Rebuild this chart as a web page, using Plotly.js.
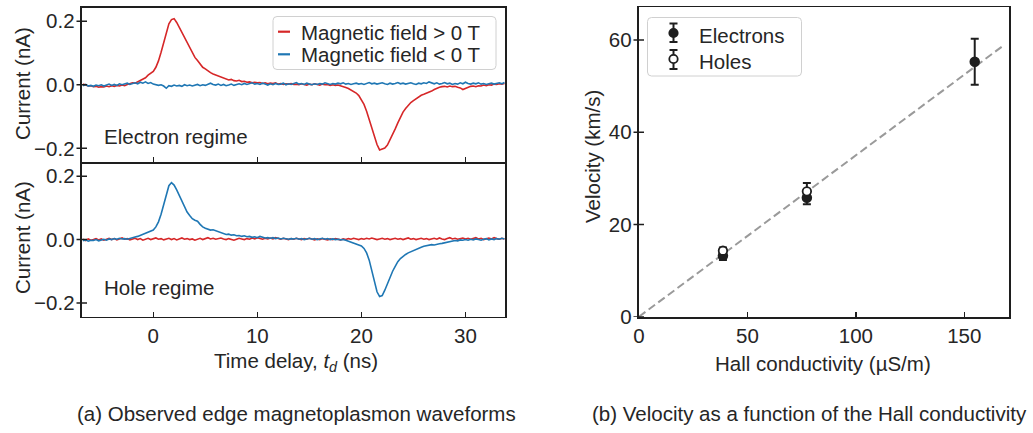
<!DOCTYPE html>
<html>
<head>
<meta charset="utf-8">
<script src="https://cdn.plot.ly/plotly-3.0.1.min.js"></script>
<style>html,body{margin:0;padding:0;background:#fff;}#plot{width:1033px;height:433px;}</style>
</head>
<body>
<div id="plot"></div>
<script>
// ---------------- DATA ----------------
// Time grid of the waveforms (ns): start and sampling step
const timeStart = -6.75;
const timeStep = 0.25;

// (a) Electron regime, current in nA
const electronPosB = [
 0.002,-0.002,-0.004,-0.003, -0.006,-0.005,-0.008,-0.006, -0.007,-0.004,-0.006,-0.003, -0.005,-0.002,-0.004,-0.001,
 -0.003,0.001,0.003,0.006, 0.005,0.009,0.012,0.016, 0.022,0.030,0.036,0.042, 0.055,0.075,0.102,0.135,
 0.168,0.192,0.205,0.208, 0.196,0.180,0.162,0.147, 0.133,0.118,0.101,0.086, 0.076,0.064,0.055,0.050,
 0.043,0.038,0.034,0.031, 0.028,0.024,0.020,0.018, 0.015,0.017,0.013,0.012, 0.014,0.010,0.011,0.008,
 0.009,0.006,0.008,0.006, 0.007,0.004,0.006,0.003, 0.005,0.004,0.006,0.002, 0.004,0.001,0.003,0.002,
 0.004,0.001,0.002,0.000, 0.003,0.001,-0.001,0.002, 0.000,0.003,0.001,-0.001, 0.002,0.000,0.001,-0.002,
 0.000,-0.002,-0.001,-0.003, -0.006,-0.009,-0.012,-0.016, -0.020,-0.026,-0.034,-0.046, -0.062,-0.083,-0.110,-0.138,
 -0.165,-0.188,-0.205,-0.203, -0.199,-0.190,-0.174,-0.157, -0.139,-0.120,-0.102,-0.086, -0.075,-0.064,-0.056,-0.050,
 -0.044,-0.038,-0.033,-0.030, -0.027,-0.024,-0.020,-0.015, -0.011,-0.008,-0.006,-0.005, -0.007,-0.004,-0.006,-0.005,
 -0.008,-0.010,-0.015,-0.011, -0.007,-0.005,-0.004,-0.006, -0.003,-0.004,-0.001,-0.003, 0.000,-0.001,0.002,0.001,
 0.003,0.002,0.004
];
const electronNegB = [
 -0.003,0.001,-0.004,-0.002, -0.005,-0.001,-0.003,0.000, -0.004,-0.001,0.002,-0.002, 0.001,-0.002,0.003,0.000,
 0.002,0.005,0.001,0.004, 0.006,0.003,0.008,0.005, 0.009,0.004,0.007,0.002, 0.001,-0.002,0.000,-0.004,
 -0.011,-0.003,-0.005,-0.001, -0.004,-0.002,-0.005,0.000, -0.003,-0.001,-0.004,-0.002, 0.001,-0.003,0.000,-0.002,
 0.002,0.005,0.001,-0.001, 0.002,-0.002,0.001,-0.003, -0.001,0.002,-0.002,0.000, 0.003,0.000,0.004,0.001,
 0.003,0.006,0.002,0.004, 0.001,0.005,0.002,-0.001, 0.003,0.000,0.004,0.001, 0.002,0.005,0.000,0.003,
 0.001,0.004,0.007,0.002, 0.004,0.001,0.005,0.002, 0.000,0.003,0.001,0.004, 0.002,0.006,0.003,0.001,
 0.004,0.002,0.005,0.003, 0.006,0.002,0.004,0.001, 0.003,0.005,0.002,0.004, 0.001,0.004,0.007,0.003,
 0.005,0.002,0.004,0.006, 0.003,0.001,0.005,0.002, 0.004,0.007,0.003,0.005, 0.002,0.004,0.006,0.003,
 0.001,0.005,0.003,0.006, 0.004,0.009,0.005,0.003, 0.006,0.002,0.004,0.007, 0.003,0.005,0.001,0.004,
 0.002,0.006,0.003,0.008, 0.004,0.002,0.005,0.003, 0.006,0.002,0.004,0.001, 0.003,0.005,0.002,0.004,
 0.006,0.003,0.007
];
// (a) Hole regime, current in nA
const holePosB = [
 0.001,-0.003,0.002,-0.002, 0.000,0.003,-0.001,0.002, -0.002,0.001,0.004,0.000, 0.003,-0.001,0.002,0.005,
 0.001,0.003,-0.001,0.002, 0.004,0.000,0.003,-0.002, 0.001,0.004,0.000,0.002, 0.005,0.001,0.003,-0.001,
 0.002,0.004,0.000,0.003, -0.001,0.002,0.005,0.001, 0.003,0.000,0.002,-0.002, 0.001,0.004,0.000,0.002,
 0.006,0.002,0.004,0.001, 0.003,0.005,0.002,0.000, 0.003,0.001,-0.002,0.001, 0.004,0.002,0.000,0.003,
 0.001,0.005,0.002,0.006, 0.003,0.001,0.004,0.002, 0.005,0.002,0.006,0.003, 0.001,0.004,0.002,0.000,
 0.003,0.001,0.004,0.002, 0.000,0.003,0.001,0.004, 0.002,-0.001,0.002,0.000, 0.003,0.001,-0.001,0.002,
 0.000,0.003,0.001,-0.001, 0.002,0.000,0.003,0.001, 0.004,0.002,0.000,0.003, 0.001,0.004,0.002,0.005,
 0.003,0.000,0.002,0.004, 0.001,0.003,0.000,0.002, 0.004,0.001,0.003,0.000, 0.002,0.005,0.001,0.003,
 0.000,0.002,0.004,0.001, 0.003,0.000,0.002,0.004, 0.001,0.005,0.002,0.000, 0.003,0.006,0.002,0.004,
 0.001,0.003,0.005,0.002, 0.004,0.001,0.003,0.006, 0.002,0.004,0.000,0.003, 0.005,0.002,0.006,0.003,
 0.001,0.004,0.002
];
const holeNegB = [
 -0.004,-0.001,-0.005,-0.002, -0.003,0.000,-0.004,-0.001, 0.001,-0.002,0.002,0.000, 0.003,0.001,0.004,0.002,
 0.003,0.001,0.004,0.006, 0.008,0.010,0.013,0.017, 0.019,0.022,0.026,0.030, 0.040,0.056,0.080,0.113,
 0.145,0.170,0.180,0.172, 0.157,0.140,0.122,0.105, 0.087,0.076,0.066,0.061, 0.058,0.048,0.040,0.036,
 0.032,0.030,0.031,0.028, 0.023,0.020,0.018,0.016, 0.017,0.014,0.015,0.012, 0.013,0.010,0.012,0.009,
 0.010,0.007,0.009,0.006, 0.010,0.007,0.005,0.006, 0.004,0.006,0.003,0.005, 0.002,0.004,0.003,0.001,
 0.003,0.002,0.004,0.001, 0.003,0.000,0.002,0.004, 0.001,0.003,0.000,0.002, 0.004,0.001,0.003,0.000,
 0.002,0.000,0.001,-0.001, 0.000,-0.002,-0.005,-0.008, -0.011,-0.014,-0.016,-0.020, -0.028,-0.042,-0.065,-0.097,
 -0.135,-0.165,-0.180,-0.177, -0.160,-0.138,-0.118,-0.100, -0.085,-0.070,-0.060,-0.052, -0.047,-0.042,-0.038,-0.034,
 -0.030,-0.026,-0.024,-0.021, -0.019,-0.018,-0.016,-0.017, -0.014,-0.013,-0.012,-0.010, -0.008,-0.006,-0.005,-0.003,
 -0.004,-0.001,-0.002,0.000, -0.002,0.001,-0.001,0.002, 0.000,-0.002,0.001,0.003, -0.001,0.002,0.000,0.003,
 0.001,0.004,0.002
];

const waveTicksX = [0, 10, 20, 30];
const waveTicksY = [-0.2, 0.0, 0.2];

// (b) Velocity vs Hall conductivity
const hallSigma = [38.7, 77.4, 154.8];          // µS/m
const electronVel = [13.2, 25.8, 55.3];         // km/s
const electronErr = [0.9, 1.4, 5.0];
const holeSigma = [38.7, 77.4];
const holeVel = [14.3, 27.2];
const holeErr = [0.7, 1.8];
const fitSigma = [0, 168];
const fitVel = [0, 58.8];
const velTicksX = [0, 50, 100, 150];
const velTicksY = [0, 20, 40, 60];

const legendLabelsA = ['Magnetic field &gt; 0 T', 'Magnetic field &lt; 0 T'];
const legendLabelsB = ['Electrons', 'Holes'];
const regimeLabels = ['Electron regime', 'Hole regime'];
const captions = ['(a) Observed edge magnetoplasmon waveforms', '(b) Velocity as a function of the Hall conductivity'];

// ---------------- STYLE ----------------
const W = 1033, H = 433;
const FONT = 'Liberation Sans, Arial, Helvetica, sans-serif';
const TXT = '#262626';
const AX = '#1e1e1e';
const RED = '#d62728', BLUE = '#1f77b4';
const FS = 20.5;
const pxX = v => v / W;
const pxY = v => 1 - v / H;

const times = electronPosB.map((_, i) => timeStart + i * timeStep);

const lineTrace = (y, color, xa, ya) => ({
  x: times, y: y, type: 'scatter', mode: 'lines',
  line: {color: color, width: 1.6}, xaxis: xa, yaxis: ya, hoverinfo: 'skip'
});

const traces = [
  lineTrace(electronPosB, RED, 'x', 'y'),
  lineTrace(electronNegB, BLUE, 'x', 'y'),
  lineTrace(holePosB, RED, 'x2', 'y2'),
  lineTrace(holeNegB, BLUE, 'x2', 'y2'),
  {x: fitSigma, y: fitVel, type: 'scatter', mode: 'lines', xaxis: 'x3', yaxis: 'y3',
   line: {color: '#9a9a9a', width: 2, dash: '8px,4px'}},
  {x: hallSigma, y: electronVel, type: 'scatter', mode: 'markers', xaxis: 'x3', yaxis: 'y3',
   marker: {color: AX, size: 9, line: {color: AX, width: 1.5}},
   error_y: {type: 'data', array: electronErr, visible: true, color: AX, thickness: 2, width: 4}},
  {x: holeSigma, y: holeVel, type: 'scatter', mode: 'markers', xaxis: 'x3', yaxis: 'y3',
   marker: {color: '#ffffff', size: 8.5, line: {color: AX, width: 1.8}},
   error_y: {type: 'data', array: holeErr, visible: true, color: AX, thickness: 2, width: 4}}
];

const baseAxis = {
  showline: true, linecolor: AX, linewidth: 1.8, mirror: true,
  showgrid: false, zeroline: false, tickcolor: AX, tickwidth: 1.5,
  tickfont: {family: FONT, size: FS, color: TXT}
};
const xAx = (extra) => Object.assign({}, baseAxis, {ticks: 'inside', ticklen: 5}, extra);
// y ticks are drawn as in-out shapes below; the axis's own ticks are kept tiny and invisible
const yAx = (extra) => Object.assign({}, baseAxis, {ticks: 'outside', ticklen: 1.5, tickcolor: 'rgba(0,0,0,0)'}, extra);

const domA = [pxX(82), pxX(505)];
const domB = [pxX(639), pxX(1009)];

const layout = {
  width: W, height: H, margin: {l: 0, r: 0, t: 0, b: 0},
  paper_bgcolor: '#ffffff', plot_bgcolor: '#ffffff', showlegend: false,
  font: {family: FONT, size: FS, color: TXT},
  xaxis: xAx({domain: domA, anchor: 'y', range: [-6.85, 33.8], tickvals: waveTicksX, showticklabels: false}),
  yaxis: yAx({domain: [pxY(162), pxY(7.5)], anchor: 'x', range: [-0.243, 0.243], tickvals: waveTicksY, tickformat: '.1f'}),
  xaxis2: xAx({domain: domA, anchor: 'y2', range: [-6.85, 33.8], tickvals: waveTicksX, mirror: false}),
  yaxis2: yAx({domain: [pxY(316.5), pxY(162)], anchor: 'x2', range: [-0.243, 0.245], tickvals: waveTicksY, tickformat: '.1f'}),
  xaxis3: xAx({domain: domB, anchor: 'y3', range: [0, 170.6], tickvals: velTicksX}),
  yaxis3: yAx({domain: [pxY(316.7), pxY(7.3)], anchor: 'x3', range: [0, 67.1], tickvals: velTicksY}),
  shapes: [], annotations: []
};

// "in-out" y ticks
[['x', 'y', waveTicksY], ['x2', 'y2', waveTicksY], ['x3', 'y3', velTicksY]].forEach(([xa, ya, tv]) => {
  tv.forEach(v => layout.shapes.push({type: 'line', xref: xa + ' domain', yref: ya,
    xsizemode: 'pixel', xanchor: 0, x0: -5.5, x1: 5, y0: v, y1: v, line: {color: AX, width: 1.5}}));
});

const ann = (text, x, y, opts) => Object.assign({text: text, x: pxX(x), y: pxY(y), xref: 'paper', yref: 'paper',
  showarrow: false, font: {family: FONT, size: FS, color: TXT}, xanchor: 'center', yanchor: 'middle'}, opts || {});

// axis titles
layout.annotations.push(ann('Current (nA)', 22, 84, {textangle: -90}));
layout.annotations.push(ann('Current (nA)', 22, 238, {textangle: -90}));
layout.annotations.push(ann('Time delay, <i>t<sub>d</sub></i> (ns)', 296, 362));
layout.annotations.push(ann('Velocity (km/s)', 592, 157, {textangle: -90}));
layout.annotations.push(ann('Hall conductivity (µS/m)', 823, 363));
// regime labels
layout.annotations.push(ann(regimeLabels[0], 102, 136, {xanchor: 'left'}));
layout.annotations.push(ann(regimeLabels[1], 102, 287, {xanchor: 'left'}));
// captions
layout.annotations.push(ann(captions[0], 296.5, 413));
layout.annotations.push(ann(captions[1], 809, 413));

// rounded legend boxes
function roundRect(x0, y0, x1, y1, r) {
  const X = pxX, Y = pxY, rx = r / W, ry = r / H;
  const a = X(x0), b = X(x1), t = Y(y0), u = Y(y1);
  return `M ${a + rx},${t} L ${b - rx},${t} Q ${b},${t} ${b},${t - ry} L ${b},${u + ry} Q ${b},${u} ${b - rx},${u} ` +
         `L ${a + rx},${u} Q ${a},${u} ${a},${u + ry} L ${a},${t - ry} Q ${a},${t} ${a + rx},${t} Z`;
}
layout.shapes.push({type: 'path', xref: 'paper', yref: 'paper', path: roundRect(273, 16.5, 496, 69.5, 4),
  line: {color: '#d0d0d0', width: 1}, fillcolor: 'rgba(255,255,255,0.85)'});
layout.shapes.push({type: 'path', xref: 'paper', yref: 'paper', path: roundRect(647.5, 17.5, 801.5, 76, 4),
  line: {color: '#d0d0d0', width: 1}, fillcolor: 'rgba(255,255,255,0.85)'});

// legend (a) glyphs and labels
[[RED, 31.7], [BLUE, 54.3]].forEach(([c, y], i) => {
  layout.shapes.push({type: 'line', xref: 'paper', yref: 'paper', x0: pxX(278), x1: pxX(290), y0: pxY(y), y1: pxY(y),
    line: {color: c, width: 2.2}});
  layout.annotations.push(ann(legendLabelsA[i], 299, y + 0.5, {xanchor: 'left'}));
});
// legend (b) glyphs and labels
[[33, 23.5, 42, AX], [59, 50, 69, '#ffffff']].forEach(([yc, yt, yb, fill], i) => {
  const cx = 673.5;
  layout.shapes.push({type: 'line', xref: 'paper', yref: 'paper', x0: pxX(cx), x1: pxX(cx), y0: pxY(yt), y1: pxY(yb), line: {color: AX, width: 2}});
  [yt, yb].forEach(yy => layout.shapes.push({type: 'line', xref: 'paper', yref: 'paper', x0: pxX(cx - 4), x1: pxX(cx + 4), y0: pxY(yy), y1: pxY(yy), line: {color: AX, width: 2}}));
  layout.shapes.push({type: 'circle', xref: 'paper', yref: 'paper', x0: pxX(cx - 4.2), x1: pxX(cx + 4.2), y0: pxY(yc + 4.2), y1: pxY(yc - 4.2),
    fillcolor: fill, line: {color: AX, width: 1.8}});
  layout.annotations.push(ann(legendLabelsB[i], 697, yc + 2.5, {xanchor: 'left'}));
});

Plotly.newPlot('plot', traces, layout, {staticPlot: true, displayModeBar: false});
</script>
</body>
</html>
